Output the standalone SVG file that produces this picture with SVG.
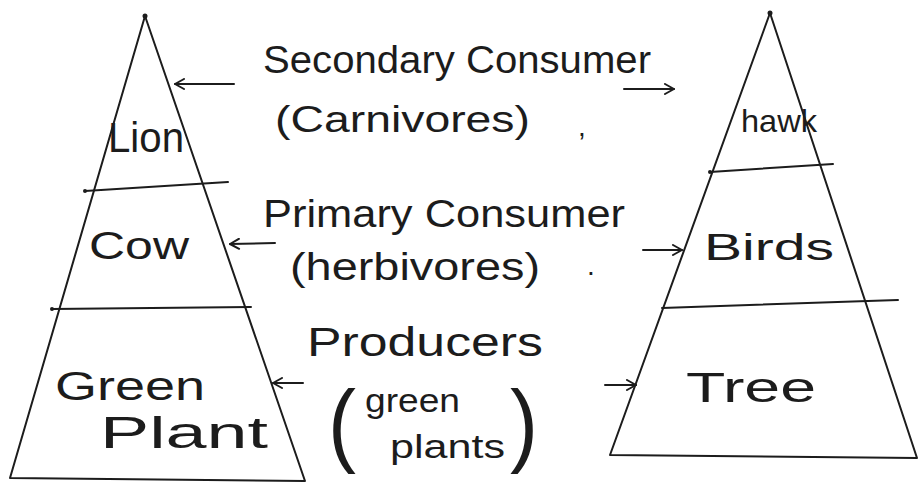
<svg xmlns="http://www.w3.org/2000/svg" width="920" height="483" viewBox="0 0 920 483">
<style>
.ln{fill:none;stroke:#1c1c1c;stroke-width:2;stroke-linecap:round;stroke-linejoin:round}
.t{font-family:"Liberation Sans","DejaVu Sans",sans-serif;fill:#1c1c1c}
</style>
<defs>
<marker id="ah" viewBox="0 0 12 12" refX="11" refY="6" markerWidth="12" markerHeight="12" markerUnits="userSpaceOnUse" orient="auto">
<polyline points="2,1 11,6 2,11" fill="none" stroke="#1c1c1c" stroke-width="2" stroke-linecap="round" stroke-linejoin="round"/>
</marker>
</defs>
<rect width="920" height="483" fill="#ffffff"/>
<g id="left-pyramid">
<path class="ln" d="M145,16 L10,478 L305,481 Z"/>
<circle cx="145" cy="16" r="2.5" fill="#1c1c1c"/>
<g id="lion"><path class="ln" d="M85,191 L228,182"/><text class="t" x="108" y="152" font-size="42" textLength="76" lengthAdjust="spacingAndGlyphs">Lion</text></g>
<g id="cow"><path class="ln" d="M52,309 L251,307"/><circle cx="85" cy="191" r="2" fill="#1c1c1c"/><text class="t" x="89" y="259" font-size="38" textLength="100" lengthAdjust="spacingAndGlyphs">Cow</text></g>
<g id="green-plant"><circle cx="52" cy="309" r="2" fill="#1c1c1c"/><text class="t" x="55" y="400" font-size="40" textLength="150" lengthAdjust="spacingAndGlyphs">Green</text><text class="t" x="100" y="448" font-size="44" textLength="168" lengthAdjust="spacingAndGlyphs">Plant</text></g>
</g>
<g id="right-pyramid">
<path class="ln" d="M770,13 L610,455 L917,458 Z"/>
<circle cx="770" cy="13" r="2.5" fill="#1c1c1c"/>
<g id="hawk"><path class="ln" d="M710,172 L833,164"/><circle cx="710" cy="172" r="2" fill="#1c1c1c"/><text class="t" x="741" y="132" font-size="32" textLength="76" lengthAdjust="spacingAndGlyphs">hawk</text></g>
<g id="birds"><path class="ln" d="M662,308 L898,300"/><text class="t" x="704" y="260" font-size="36" textLength="130" lengthAdjust="spacingAndGlyphs">Birds</text></g>
<g id="tree"><text class="t" x="686" y="402" font-size="42" textLength="130" lengthAdjust="spacingAndGlyphs">Tree</text></g>
</g>
<g id="secondary-consumer">
<text class="t" x="263" y="73" font-size="38" textLength="388" lengthAdjust="spacingAndGlyphs">Secondary Consumer</text>
<text class="t" x="275" y="132" font-size="36" textLength="255" lengthAdjust="spacingAndGlyphs">(Carnivores)</text>
<text class="t" x="578" y="136" font-size="28">,</text>
</g>
<g id="primary-consumer">
<text class="t" x="263" y="227" font-size="38" textLength="362" lengthAdjust="spacingAndGlyphs">Primary Consumer</text>
<text class="t" x="290" y="280" font-size="38" textLength="250" lengthAdjust="spacingAndGlyphs">(herbivores)</text>
<text class="t" x="587" y="275" font-size="28">.</text>
</g>
<g id="producers">
<text class="t" x="307" y="356" font-size="40" textLength="236" lengthAdjust="spacingAndGlyphs">Producers</text>
<text class="t" x="328" y="455" font-size="92" textLength="28" lengthAdjust="spacingAndGlyphs">(</text>
<text class="t" x="365" y="412" font-size="34" textLength="95" lengthAdjust="spacingAndGlyphs">green</text>
<text class="t" x="390" y="458" font-size="34" textLength="115" lengthAdjust="spacingAndGlyphs">plants</text>
<text class="t" x="510" y="455" font-size="92" textLength="28" lengthAdjust="spacingAndGlyphs">)</text>
</g>
<g id="connectors">
<path class="ln" d="M234,84 L175,84" marker-end="url(#ah)"/>
<path class="ln" d="M624,89 L674,89" marker-end="url(#ah)"/>
<path class="ln" d="M275,243 L230,244" marker-end="url(#ah)"/>
<path class="ln" d="M643,250 L682,250" marker-end="url(#ah)"/>
<path class="ln" d="M303,383 L273,383" marker-end="url(#ah)"/>
<path class="ln" d="M605,385 L636,385" marker-end="url(#ah)"/>
</g>
</svg>
